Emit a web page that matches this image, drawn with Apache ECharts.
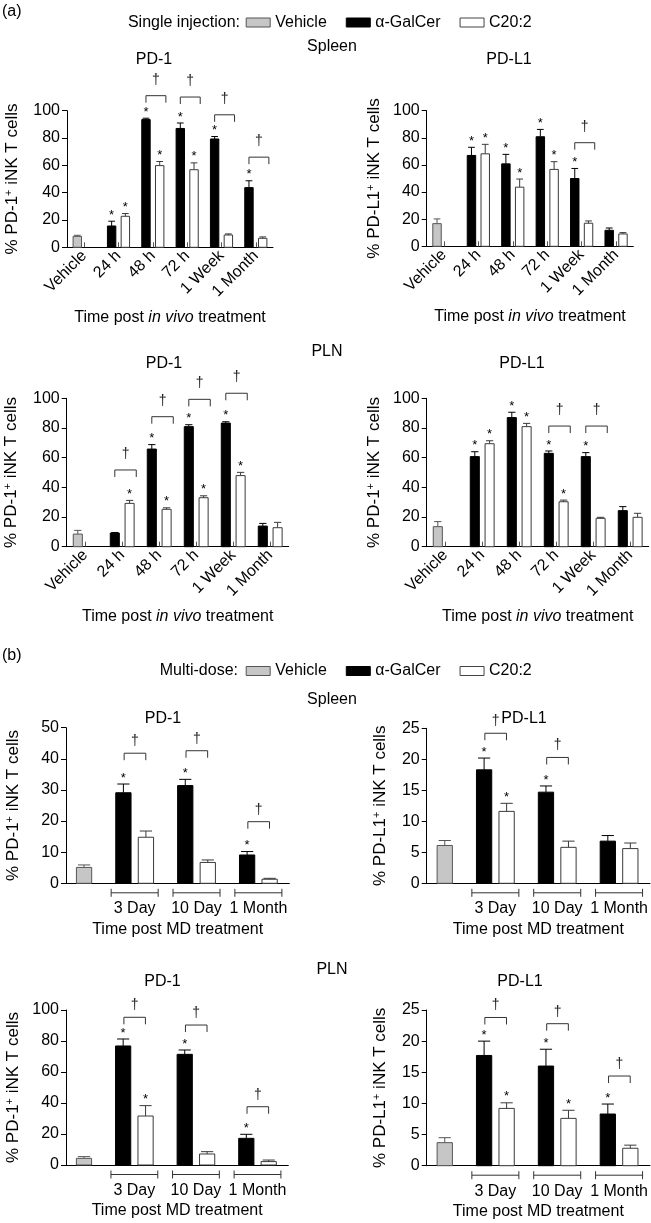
<!DOCTYPE html>
<html><head><meta charset="utf-8">
<script src="https://cdn.jsdelivr.net/npm/echarts@6/dist/echarts.min.js"></script>
<style>html,body{margin:0;padding:0;background:#fff}#c{width:651px;height:1223px}</style>
</head><body><div id="c"></div>
<script>
const FONT = "'Liberation Sans', Arial, Helvetica, sans-serif";

// ---------- categories / labels ----------
const singleCategories = ['Vehicle', '24 h', '48 h', '72 h', '1 Week', '1 Month'];
const multiCategories = ['3 Day', '10 Day', '1 Month'];
const legendNames = ['Vehicle', 'α-GalCer', 'C20:2'];

// ---------- (a) single injection, Spleen PD-1 ----------
const aSpleenPD1Vehicle = [8, 0.8];
const aSpleenPD1Galcer = [15.6, 93.5, 87, 79.3, 43.7];
const aSpleenPD1GalcerErr = [3.5, 1, 4, 1.8, 5];
const aSpleenPD1C20 = [22.7, 59.8, 56.8, 9, 6.6];
const aSpleenPD1C20Err = [2, 3, 5, 0.8, 1];
const aSpleenPD1GalcerStar = [1, 1, 1, 1, 1];
const aSpleenPD1C20Star = [1, 1, 1, 0, 0];
const aSpleenPD1Dagger = [null, 111, 110, 97, 66];

// ---------- (a) Spleen PD-L1 ----------
const aSpleenPDL1Vehicle = [16.7, 3.5];
const aSpleenPDL1Galcer = [67, 60.8, 80.8, 50, 11.8];
const aSpleenPDL1GalcerErr = [6, 7, 5.4, 7.4, 1.7];
const aSpleenPDL1C20 = [68.2, 43.6, 56.7, 17, 9.1];
const aSpleenPDL1C20Err = [7, 6, 5.7, 1.7, 1];
const aSpleenPDL1GalcerStar = [1, 1, 1, 1, 0];
const aSpleenPDL1C20Star = [1, 1, 1, 0, 0];
const aSpleenPDL1Dagger = [null, null, null, 76.4, null];

// ---------- (a) PLN PD-1 ----------
const aPlnPD1Vehicle = [8.5, 2.5];
const aPlnPD1Galcer = [9.2, 65.8, 80.9, 83.3, 13.9];
const aPlnPD1GalcerErr = [0.4, 3, 1.3, 0.9, 1.8];
const aPlnPD1C20 = [29.2, 25.2, 33.0, 47.9, 12.8];
const aPlnPD1C20Err = [2, 1, 1.3, 2.2, 3.6];
const aPlnPD1GalcerStar = [0, 1, 1, 1, 0];
const aPlnPD1C20Star = [1, 1, 1, 1, 0];
const aPlnPD1Dagger = [51.7, 87.6, 99.3, 103.4, null];

// ---------- (a) PLN PD-L1 ----------
const aPlnPDL1Vehicle = [13.5, 3.4];
const aPlnPDL1Galcer = [60.7, 87, 62.9, 60.7, 24.3];
const aPlnPDL1GalcerErr = [3.3, 3.6, 1.6, 2.7, 2.7];
const aPlnPDL1C20 = [69.4, 80.9, 30.3, 19.1, 19.8];
const aPlnPDL1C20Err = [2, 2.2, 1.1, 0.7, 2.7];
const aPlnPDL1GalcerStar = [1, 1, 1, 1, 0];
const aPlnPDL1C20Star = [1, 1, 1, 0, 0];
const aPlnPDL1Dagger = [null, null, 81.3, 81.3, null];

// ---------- (b) multi-dose, Spleen PD-1 ----------
const bSpleenPD1Vehicle = [5.1, 0.8];
const bSpleenPD1Galcer = [29.1, 31.4, 9.1];
const bSpleenPD1GalcerErr = [2.8, 2, 1.1];
const bSpleenPD1C20 = [14.8, 6.7, 1.3];
const bSpleenPD1C20Err = [2, 0.8, 0.3];
const bSpleenPD1GalcerStar = [1, 1, 1];
const bSpleenPD1C20Star = [0, 0, 0];
const bSpleenPD1Dagger = [41.8, 42.6, 19.8];

// ---------- (b) Spleen PD-L1 ----------
const bSpleenPDL1Vehicle = [6.1, 0.8];
const bSpleenPDL1Galcer = [18.3, 14.7, 6.8];
const bSpleenPDL1GalcerErr = [1.9, 1, 0.9];
const bSpleenPDL1C20 = [11.6, 5.8, 5.6];
const bSpleenPDL1C20Err = [1.3, 1, 0.9];
const bSpleenPDL1GalcerStar = [1, 1, 0];
const bSpleenPDL1C20Star = [1, 0, 0];
const bSpleenPDL1Dagger = [24.2, 20.3, null];

// ---------- (b) PLN PD-1 ----------
const bPlnPD1Vehicle = [4.3, 1.1];
const bPlnPD1Galcer = [76.8, 71.4, 17.2];
const bPlnPD1GalcerErr = [4.5, 2.8, 2.6];
const bPlnPD1C20 = [31.6, 7.1, 2.2];
const bPlnPD1C20Err = [6.7, 1.5, 1];
const bPlnPD1GalcerStar = [1, 1, 1];
const bPlnPD1C20Star = [1, 0, 0];
const bPlnPD1Dagger = [95.3, 90.3, 37.6];

// ---------- (b) PLN PD-L1 ----------
const bPlnPDL1Vehicle = [3.7, 0.8];
const bPlnPDL1Galcer = [17.7, 16, 8.3];
const bPlnPDL1GalcerErr = [2.3, 2.7, 1.6];
const bPlnPDL1C20 = [9.2, 7.6, 2.8];
const bPlnPDL1C20Err = [0.9, 1.3, 0.5];
const bPlnPDL1GalcerStar = [1, 1, 1];
const bPlnPDL1C20Star = [1, 1, 0];
const bPlnPDL1Dagger = [23.8, 22.8, 14.4];

// ---------- panel definitions (layout kept separate from data) ----------
const panels = [
  {multi:false, veh:aSpleenPD1Vehicle, gal:aSpleenPD1Galcer, galErr:aSpleenPD1GalcerErr, c20:aSpleenPD1C20, c20Err:aSpleenPD1C20Err, galStar:aSpleenPD1GalcerStar, c20Star:aSpleenPD1C20Star, dag:aSpleenPD1Dagger, ymax:100, yint:20, marker:'PD-1', grid:{left:67, top:110.7, width:206, height:136.6}, nameGap:46},
  {multi:false, veh:aSpleenPDL1Vehicle, gal:aSpleenPDL1Galcer, galErr:aSpleenPDL1GalcerErr, c20:aSpleenPDL1C20, c20Err:aSpleenPDL1C20Err, galStar:aSpleenPDL1GalcerStar, c20Star:aSpleenPDL1C20Star, dag:aSpleenPDL1Dagger, ymax:100, yint:20, marker:'PD-L1', grid:{left:426.7, top:110.7, width:206.6, height:135.6}, nameGap:43},
  {multi:false, veh:aPlnPD1Vehicle, gal:aPlnPD1Galcer, galErr:aPlnPD1GalcerErr, c20:aPlnPD1C20, c20Err:aPlnPD1C20Err, galStar:aPlnPD1GalcerStar, c20Star:aPlnPD1C20Star, dag:aPlnPD1Dagger, ymax:100, yint:20, marker:'PD-1', grid:{left:66.7, top:398.3, width:222, height:148.4}, nameGap:46},
  {multi:false, veh:aPlnPDL1Vehicle, gal:aPlnPDL1Galcer, galErr:aPlnPDL1GalcerErr, c20:aPlnPDL1C20, c20Err:aPlnPDL1C20Err, galStar:aPlnPDL1GalcerStar, c20Star:aPlnPDL1C20Star, dag:aPlnPDL1Dagger, ymax:100, yint:20, marker:'PD-1', grid:{left:426.7, top:398.3, width:222, height:148.4}, nameGap:43},
  {multi:true, veh:bSpleenPD1Vehicle, gal:bSpleenPD1Galcer, galErr:bSpleenPD1GalcerErr, c20:bSpleenPD1C20, c20Err:bSpleenPD1C20Err, galStar:bSpleenPD1GalcerStar, c20Star:bSpleenPD1C20Star, dag:bSpleenPD1Dagger, ymax:50, yint:10, marker:'PD-1', grid:{left:66, top:727.7, width:223.3, height:155.6}, nameGap:44},
  {multi:true, veh:bSpleenPDL1Vehicle, gal:bSpleenPDL1Galcer, galErr:bSpleenPDL1GalcerErr, c20:bSpleenPDL1C20, c20Err:bSpleenPDL1C20Err, galStar:bSpleenPDL1GalcerStar, c20Star:bSpleenPDL1C20Star, dag:bSpleenPDL1Dagger, ymax:25, yint:5, marker:'PD-L1', grid:{left:426.7, top:728.3, width:223.3, height:155}, nameGap:37},
  {multi:true, veh:bPlnPD1Vehicle, gal:bPlnPD1Galcer, galErr:bPlnPD1GalcerErr, c20:bPlnPD1C20, c20Err:bPlnPD1C20Err, galStar:bPlnPD1GalcerStar, c20Star:bPlnPD1C20Star, dag:bPlnPD1Dagger, ymax:100, yint:20, marker:'PD-1', grid:{left:66, top:1010, width:222.3, height:155}, nameGap:44},
  {multi:true, veh:bPlnPDL1Vehicle, gal:bPlnPDL1Galcer, galErr:bPlnPDL1GalcerErr, c20:bPlnPDL1C20, c20Err:bPlnPDL1C20Err, galStar:bPlnPDL1GalcerStar, c20Star:bPlnPDL1C20Star, dag:bPlnPDL1Dagger, ymax:25, yint:5, marker:'PD-L1', grid:{left:426.7, top:1010, width:223.3, height:155.7}, nameGap:37}
];

const STYLE = {
  veh: {fill:'#c6c6c6', stroke:'#555', err:'#555'},
  gal: {fill:'#000', stroke:'#000', err:'#000'},
  c20: {fill:'#fff', stroke:'#3a3a3a', err:'#3a3a3a'}
};
const BAND_A = {slot:0.2, bar:0.245, brL:-0.2, brR:0.38, leg:7, dag:16};
const BAND_B = {slot:0.182, bar:0.247, brL:-0.17, brR:0.18, leg:7, dag:12};

function barRenderer(sign, band, st) {
  return function (params, api) {
    const x = api.value(0), v = api.value(1), e = api.value(2), star = api.value(3);
    const unit = api.size([1, 0])[0];
    const base = api.coord([x, 0]);
    const top = api.coord([x, v]);
    const et = api.coord([x, v + e]);
    const cx = base[0] + sign * band.slot * unit;
    const w = band.bar * unit;
    const ch = [
      {type:'line', shape:{x1:cx, y1:top[1], x2:cx, y2:et[1]}, style:{stroke:st.err, lineWidth:1}},
      {type:'line', shape:{x1:cx - w * 0.4, y1:et[1], x2:cx + w * 0.4, y2:et[1]}, style:{stroke:st.err, lineWidth:1}},
      {type:'rect', shape:{x:cx - w / 2, y:top[1], width:w, height:base[1] - top[1]}, style:{fill:st.fill, stroke:st.stroke, lineWidth:1}}
    ];
    if (star) ch.push({type:'text', x:cx, y:et[1] - 6, style:{text:'*', fontSize:13, fontFamily:FONT, fill:'#000', textAlign:'center', textVerticalAlign:'middle'}});
    return {type:'group', children:ch};
  };
}

function sigRenderer(band) {
  return function (params, api) {
    const x = api.value(0), h = api.value(1);
    const unit = api.size([1, 0])[0];
    const p = api.coord([x, h]);
    const x1 = p[0] + band.brL * unit, x2 = p[0] + band.brR * unit;
    return {type:'group', children:[
      {type:'polyline', shape:{points:[[x1, p[1] + band.leg], [x1, p[1]], [x2, p[1]], [x2, p[1] + band.leg]]}, style:{stroke:'#333', lineWidth:1, fill:null}},
      {type:'text', x:(x1 + x2) / 2, y:p[1] - band.dag, style:{text:'†', fontSize:14, fontFamily:FONT, fill:'#222', textAlign:'center', textVerticalAlign:'middle'}}
    ]};
  };
}

function groupRenderer(labels) {
  return function (params, api) {
    const x = api.value(0);
    const unit = api.size([1, 0])[0];
    const p = api.coord([x, 0]);
    const y = p[1] + 9.5;
    const x1 = p[0] - 0.38 * unit, x2 = p[0] + 0.38 * unit;
    return {type:'group', children:[
      {type:'line', shape:{x1:x1, y1:y, x2:x2, y2:y}, style:{stroke:'#333', lineWidth:1}},
      {type:'line', shape:{x1:x1, y1:y - 4, x2:x1, y2:y + 4}, style:{stroke:'#333', lineWidth:1}},
      {type:'line', shape:{x1:x2, y1:y - 4, x2:x2, y2:y + 4}, style:{stroke:'#333', lineWidth:1}},
      {type:'text', x:p[0], y:y + 16, style:{text:labels[params.dataIndex], fontSize:16, fontFamily:FONT, fill:'#000', textAlign:'center', textVerticalAlign:'middle'}}
    ]};
  };
}

const grids = [], xAxes = [], yAxes = [], series = [];
panels.forEach(function (p, gi) {
  grids.push(Object.assign({outerBoundsMode:'none', containLabel:false}, p.grid));
  const band = p.multi ? BAND_B : BAND_A;
  if (p.multi) {
    xAxes.push({gridIndex:gi, type:'value', min:-0.11, max:3.5, axisLine:{show:true, onZero:false, lineStyle:{color:'#000', width:1}}, axisTick:{show:false}, axisLabel:{show:false}, splitLine:{show:false},
      name:'Time post MD treatment', nameLocation:'middle', nameGap:38, nameTextStyle:{fontSize:16, fontFamily:FONT, color:'#000'}});
  } else {
    xAxes.push({gridIndex:gi, type:'category', data:singleCategories, boundaryGap:true,
      axisLine:{show:true, onZero:false, lineStyle:{color:'#000', width:1}},
      axisTick:{show:true, inside:true, alignWithLabel:true, length:5, lineStyle:{color:'#555'}},
      axisLabel:{rotate:45, fontSize:16, fontFamily:FONT, color:'#000', margin:6, interval:0},
      splitLine:{show:false},
      name:'{t|Time post }{i|in vivo}{t| treatment}', nameLocation:'middle', nameGap:62,
      nameTextStyle:{rich:{t:{fontSize:16, fontFamily:FONT, color:'#000'}, i:{fontSize:16, fontFamily:FONT, color:'#000', fontStyle:'italic'}}}});
  }
  yAxes.push({gridIndex:gi, type:'value', min:0, max:p.ymax, interval:p.yint,
    axisLine:{show:true, onZero:false, lineStyle:{color:'#000', width:1}},
    axisTick:{show:true, length:5, lineStyle:{color:'#000'}},
    axisLabel:{fontSize:16, fontFamily:FONT, color:'#000', margin:7},
    splitLine:{show:false},
    name:'{t|% ' + p.marker + '}{s|+}{t| iNK T cells}', nameLocation:'middle', nameRotate:90, nameGap:p.nameGap,
    nameTextStyle:{rich:{t:{fontSize:17, fontFamily:FONT, color:'#000', lineHeight:18}, s:{fontSize:11, fontFamily:FONT, color:'#000', verticalAlign:'top', lineHeight:18}}}});

  const vehSign = p.multi ? 1 : -1;
  series.push({type:'custom', name:legendNames[0], xAxisIndex:gi, yAxisIndex:gi, clip:false,
    data:[[0, p.veh[0], p.veh[1], 0]], renderItem:barRenderer(vehSign, band, STYLE.veh), z:3});
  series.push({type:'custom', name:legendNames[1], xAxisIndex:gi, yAxisIndex:gi, clip:false,
    data:p.gal.map(function (v, i) { return [i + 1, v, p.galErr[i], p.galStar[i]]; }), renderItem:barRenderer(-1, band, STYLE.gal), z:3});
  series.push({type:'custom', name:legendNames[2], xAxisIndex:gi, yAxisIndex:gi, clip:false,
    data:p.c20.map(function (v, i) { return [i + 1, v, p.c20Err[i], p.c20Star[i]]; }), renderItem:barRenderer(1, band, STYLE.c20), z:3});
  const sig = [];
  p.dag.forEach(function (h, i) { if (h != null) sig.push([i + 1, h]); });
  series.push({type:'custom', name:'sig', xAxisIndex:gi, yAxisIndex:gi, clip:false, data:sig, renderItem:sigRenderer(band), z:4});
  if (p.multi) {
    series.push({type:'custom', name:'groups', xAxisIndex:gi, yAxisIndex:gi, clip:false,
      data:multiCategories.map(function (c, i) { return [i + 1, 0]; }), renderItem:groupRenderer(multiCategories), z:4});
  }
});

const legendItems = [
  {name:legendNames[0], itemStyle:{color:'#c6c6c6', borderColor:'#555', borderWidth:1}},
  {name:legendNames[1], itemStyle:{color:'#000', borderColor:'#000', borderWidth:1}},
  {name:legendNames[2], itemStyle:{color:'#fff', borderColor:'#444', borderWidth:1}}
];
function legendAt(top) {
  return {left:245.7, top:top, padding:0, orient:'horizontal', icon:'rect', itemWidth:24, itemHeight:9, itemGap:19, selectedMode:false,
    textStyle:{fontSize:16, fontFamily:FONT, color:'#000'}, data:legendItems};
}

const headTexts = [
  ['(a)', 2, 12, 'left'], ['Single injection:', 240, 22.7, 'right'], ['Spleen', 332, 47, 'center'],
  ['PD-1', 154, 60, 'center'], ['PD-L1', 509, 59.5, 'center'],
  ['PLN', 327, 352, 'center'], ['PD-1', 164, 364, 'center'], ['PD-L1', 522, 363.5, 'center'],
  ['(b)', 2, 656, 'left'], ['Multi-dose:', 238, 671, 'right'], ['Spleen', 332, 700, 'center'],
  ['PD-1', 163, 719, 'center'], ['PD-L1', 524, 719, 'center'],
  ['PLN', 332, 970, 'center'], ['PD-1', 162.5, 982, 'center'], ['PD-L1', 520, 982, 'center']
];
const graphic = headTexts.map(function (t) {
  return {type:'text', x:t[1], y:t[2], style:{text:t[0], fontSize:16, fontFamily:FONT, fill:'#000', textAlign:t[3], textVerticalAlign:'middle'}};
});

const chart = echarts.init(document.getElementById('c'), null, {renderer:'canvas'});
chart.setOption({
  animation:false,
  backgroundColor:'#fff',
  textStyle:{fontFamily:FONT},
  legend:[legendAt(14.5), legendAt(663)],
  grid:grids, xAxis:xAxes, yAxis:yAxes, series:series, graphic:graphic
});
</script></body></html>
